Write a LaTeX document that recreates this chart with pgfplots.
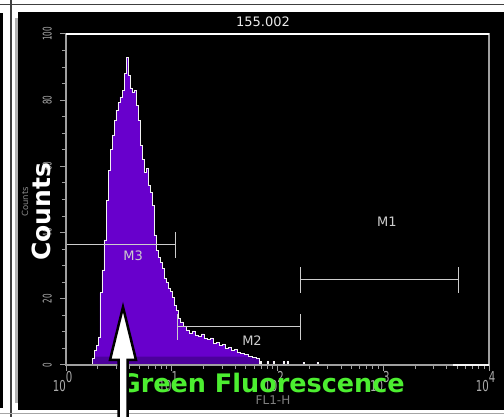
\documentclass[border=0pt]{standalone}
\usepackage{pgfplots}
\usepackage{pgfplotstable}
\pgfplotsset{compat=1.18}
\usepackage{fontspec}
\setmainfont{DejaVu Sans}
\newfontfamily\yfont[FakeStretch=0.6]{DejaVu Sans}
\newfontfamily\xfont[FakeStretch=0.68]{DejaVu Sans}

\definecolor{histpurple}{RGB}{104,0,204}
\definecolor{banddark}{RGB}{76,0,156}
\definecolor{gategray}{RGB}{205,205,205}
\definecolor{axisgray}{RGB}{160,160,160}
\definecolor{labgray}{RGB}{170,170,170}
\definecolor{flgreen}{RGB}{76,238,48}

% FL1-H histogram: decade position (log10 of FL1-H), counts
\pgfplotstableread{
dec count
0.0000 0
0.2459 2.1
0.2648 4.5
0.2837 6.0
0.3026 8.5
0.3215 21.8
0.3404 28.7
0.3593 37.8
0.3783 49.8
0.3972 58.9
0.4161 65.0
0.4350 69.5
0.4539 74.0
0.4728 77.0
0.4917 79.2
0.5106 81.0
0.5296 83.0
0.5485 88.2
0.5674 93.0
0.5863 87.6
0.6052 83.7
0.6241 82.5
0.6430 83.0
0.6619 78.5
0.6809 74.0
0.6998 66.5
0.7187 62.0
0.7376 58.3
0.7565 59.5
0.7754 54.4
0.7943 52.3
0.8132 48.3
0.8322 39.3
0.8511 34.7
0.8700 32.6
0.8889 31.1
0.9078 29.3
0.9267 26.3
0.9456 25.1
0.9645 23.3
0.9835 22.1
1.0024 20.5
1.0213 18.1
1.0402 16.6
1.0591 14.2
1.0780 13.0
1.1064 11.8
1.1348 10.6
1.1631 9.7
1.1915 10.3
1.2199 9.1
1.2482 8.8
1.2766 9.4
1.3050 7.9
1.3333 7.6
1.3617 8.2
1.3901 6.6
1.4184 6.9
1.4468 6.0
1.4752 6.3
1.5035 5.1
1.5319 5.4
1.5603 4.5
1.5887 4.8
1.6170 3.9
1.6454 3.6
1.6832 3.3
1.7210 2.7
1.7589 2.4
1.7967 2.1
1.8250 0
1.8345 1.2
1.8440 0
1.9007 1.0
1.9100 0
1.9574 1.2
1.9670 0
2.0520 1.0
2.0615 0
2.0898 1.0
2.0990 0
2.2411 0.9
2.2510 0
2.3735 0.9
2.3830 0
4.0000 0
}\histdata

% darker low-count band at the foot of the histogram
\pgfplotstableread{
dec count
0.2459 2.1
0.2648 2.5
1.7589 2.3
1.7967 2.1
1.8250 0
}\banddata

% decade tick label: base 10 with the exponent set beside it
\newcommand{\dec}[1]{\mbox{10\rlap{\smash{\raisebox{9pt}{#1}}}}}

\begin{document}
\begin{tikzpicture}[x=1pt,y=1pt]
\path[use as bounding box, fill=white] (0,0) rectangle (504,417);
\begin{scope}
\clip (0,0) rectangle (504,417);
% window frame
\fill[black] (0,9) rectangle (3,404);
\draw[black!75, line width=2pt] (10.5,0) -- (10.5,417);
\draw[black!75, line width=1.5pt] (0,412.5) -- (504,412.5);
\fill[black] (18,7) rectangle (504,404.5);
\fill[black!30] (15,14) rectangle (18,399);
\draw[black!35, line width=1pt] (0,3) -- (504,3);
\end{scope}

\begin{axis}[
  at={(66pt,52pt)}, anchor=south west,
  width=423pt, height=331pt, scale only axis,
  xmin=0, xmax=4, ymin=0, ymax=100,
  axis on top,
  axis line style={draw=axisgray, line width=1.5pt},
  tick align=outside, tick pos=left,
  tick style={draw=axisgray, line width=1pt},
  major tick length=6pt, minor tick length=4pt,
  xtick={0,1,2,3,4},
  xticklabels={\dec{0},\dec{1},\dec{2},\dec{3},\dec{4}},
  minor xtick={0.301,0.477,0.602,0.699,0.778,0.845,0.903,0.954,
               1.301,1.477,1.602,1.699,1.778,1.845,1.903,1.954,
               2.301,2.477,2.602,2.699,2.778,2.845,2.903,2.954,
               3.301,3.477,3.602,3.699,3.778,3.845,3.903,3.954},
  ytick={0,20,40,60,80,100},
  yticklabels={\mbox{0},\mbox{20},\mbox{40},\mbox{60},\mbox{80},\mbox{100}},
  minor ytick={5,10,15,25,30,35,45,50,55,65,70,75,85,90,95},
  xticklabel style={anchor=north east, inner sep=0pt, text=labgray,
    font=\xfont\fontsize{15}{15}\selectfont, yshift=-9pt},
  yticklabel style={xshift=-8pt, rotate=90, anchor=south, inner sep=0pt,
    text=labgray, font=\yfont\fontsize{12}{12}\selectfont},
]
\addplot[const plot, fill=histpurple, draw=none] table[x=dec, y=count] {\histdata} \closedcycle;
\addplot[const plot, fill=banddark, draw=none] table[x=dec, y=count] {\banddata} \closedcycle;
\addplot[const plot, draw=white!90!gray, line width=0.7pt] table[x=dec, y=count] {\histdata};

% gate markers
\addplot[gategray, line width=1pt] coordinates {(0,36.3) (1.04,36.3)};
\addplot[gategray, line width=1pt] coordinates {(1.04,32.4) (1.04,40.2)};
\addplot[gategray, line width=1pt] coordinates {(1.059,11.5) (2.222,11.5)};
\addplot[gategray, line width=1pt] coordinates {(1.059,7.6) (1.059,15.4)};
\addplot[gategray, line width=1pt] coordinates {(2.222,7.6) (2.222,15.4)};
\addplot[gategray, line width=1pt] coordinates {(2.222,25.7) (3.716,25.7)};
\addplot[gategray, line width=1pt] coordinates {(2.222,21.8) (2.222,29.6)};
\addplot[gategray, line width=1pt] coordinates {(3.716,21.8) (3.716,29.6)};
\node[text=gategray, font=\fontsize{13}{13}\selectfont] at (axis cs:0.634,32.9) {M3};
\node[text=gategray, font=\fontsize{13}{13}\selectfont] at (axis cs:1.759,7.3) {M2};
\node[text=gategray, font=\fontsize{13}{13}\selectfont] at (axis cs:3.035,43.2) {M1};
\end{axis}

% top and part of bottom frame of the plot box
\draw[white, line width=1.5pt] (66,383) -- (489,383);
\draw[white!92!gray, line width=1.5pt] (453,52) -- (489,52);

% titles and labels
\node[text=black!8, font=\fontsize{13}{13}\selectfont] at (263,395) {155.002};
\node[rotate=90, anchor=base, text=black!45, font=\fontsize{8.5}{8.5}\selectfont] at (28,215) {Counts};
\node[rotate=90, anchor=base, text=white, font=\bfseries\fontsize{25}{25}\selectfont, inner sep=0pt] at (50,205) {Counts};
\node[text=black!50, font=\fontsize{12}{12}\selectfont] at (273,17) {FL1-H};
\node[anchor=base east, text=flgreen, font=\bfseries\fontsize{25.5}{25.5}\selectfont, inner sep=0pt] at (405,24) {Green Fluorescence};

% pointer arrow
\begin{scope}
\clip (0,0) rectangle (504,417);
\filldraw[fill=white, draw=black, line width=2.5pt, line join=miter]
  (123,110) -- (136,57) -- (127.5,57) -- (127.5,-5) -- (118.5,-5) -- (118.5,57) -- (110,57) -- cycle;
\end{scope}
\end{tikzpicture}
\end{document}
